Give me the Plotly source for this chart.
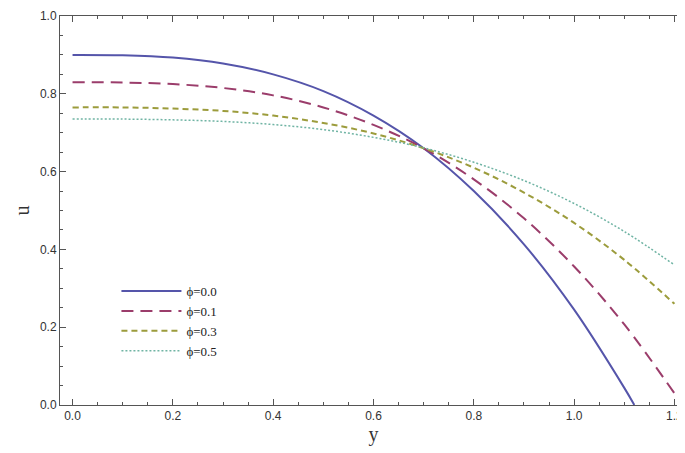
import plotly.graph_objects as go

y_vals = [0.0, 0.1, 0.2, 0.3, 0.4, 0.5, 0.6, 0.7, 0.8, 0.9, 1.0, 1.1, 1.12]
u_phi00 = [0.900, 0.899, 0.893, 0.878, 0.850, 0.807, 0.744, 0.660, 0.550, 0.413, 0.245, 0.044, 0.0]
y_vals2 = [0.0, 0.1, 0.2, 0.3, 0.4, 0.5, 0.6, 0.7, 0.8, 0.9, 1.0, 1.1, 1.2]
u_phi01 = [0.830, 0.829, 0.825, 0.815, 0.796, 0.765, 0.720, 0.660, 0.580, 0.480, 0.356, 0.207, 0.030]
u_phi03 = [0.765, 0.765, 0.762, 0.756, 0.744, 0.725, 0.698, 0.660, 0.610, 0.546, 0.468, 0.373, 0.260]
u_phi05 = [0.735, 0.735, 0.733, 0.729, 0.721, 0.708, 0.688, 0.661, 0.624, 0.577, 0.518, 0.446, 0.360]
labels = ["\u03d5=0.0", "\u03d5=0.1", "\u03d5=0.3", "\u03d5=0.5"]

fig = go.Figure()
series = [(y_vals, u_phi00, "#5555AA", 2),
          (y_vals2, u_phi01, "#9B3D6B", 2),
          (y_vals2, u_phi03, "#9C9C3C", 2),
          (y_vals2, u_phi05, "#70B4A4", 1.5)]
dashes = ["solid", "12px,7px", "6px,4px", "2px,2px"]
for (x, u, c, w), lab, ds in zip(series, labels, dashes):
    fig.add_trace(go.Scatter(x=x, y=u, mode="lines", name=lab,
                             line=dict(color=c, dash=ds, width=w, shape="spline")))

axis_common = dict(showline=True, mirror="allticks", linecolor="#555", linewidth=1,
                   ticks="inside", ticklen=6, tickcolor="#555", showgrid=False, zeroline=False,
                   tickfont=dict(family="Liberation Sans", size=12, color="#333"))
fig.update_xaxes(range=[-0.025, 1.225], tickvals=[0, 0.2, 0.4, 0.6, 0.8, 1.0, 1.2],
                 tickformat=".1f", title=dict(text="y", font=dict(family="Liberation Serif", size=20, color="#333"), standoff=4),
                 minor=dict(ticks="inside", ticklen=3, dtick=0.05, tickcolor="#555"), **axis_common)
fig.update_yaxes(range=[0, 1.0], tickvals=[0, 0.2, 0.4, 0.6, 0.8, 1.0], tickformat=".1f",
                 title=dict(text="u", font=dict(family="Liberation Serif", size=20, color="#333"), standoff=4),
                 minor=dict(ticks="inside", ticklen=3, dtick=0.05, tickcolor="#555"), **axis_common)
fig.update_layout(width=685, height=453, plot_bgcolor="white", paper_bgcolor="white",
                  margin=dict(l=52, r=6, t=8, b=56, autoexpand=False),
                  legend=dict(x=0.09, y=0.10, xanchor="left", yanchor="bottom",
                              bgcolor="rgba(0,0,0,0)", itemwidth=60,
                              font=dict(family="Liberation Serif", size=13, color="#222"),
                              tracegroupgap=2))
fig.write_html("out.html")
